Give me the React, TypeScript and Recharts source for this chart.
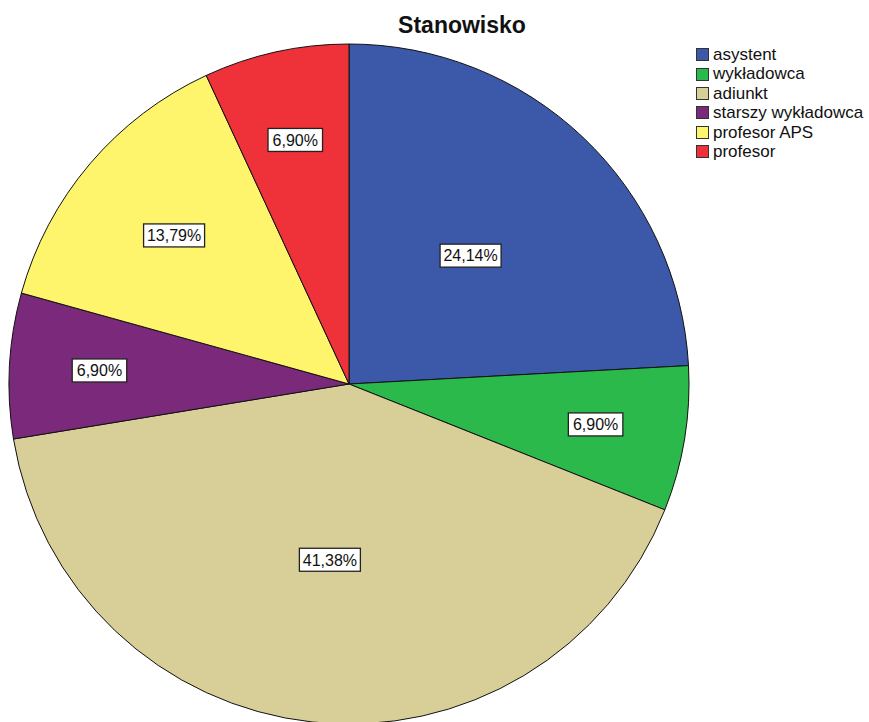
import React from "react"
import { Cell, Legend, Pie, PieChart } from "recharts"

const categories = ["asystent", "wykładowca", "adiunkt", "starszy wykładowca", "profesor APS", "profesor"]
const counts = [7, 2, 12, 2, 4, 2]
const colors = ["#3b59a8", "#2bb94c", "#d8cf98", "#7b2a7b", "#fff56d", "#ef3239"]

const data = categories.map((name, i) => ({ name, value: counts[i] }))

const RAD = Math.PI / 180
const FONT = "'Liberation Sans', Arial, sans-serif"

// small slices get their labels pushed out towards the rim, like the original
const renderLabel = (props: any) => {
  const { cx, cy, midAngle, outerRadius, percent } = props
  const share = percent * 100
  const k = share < 10 ? 0.735 : share < 20 ? 0.675 : 0.52
  const r = outerRadius * k
  const x = cx + r * Math.cos(-midAngle * RAD)
  const y = cy + r * Math.sin(-midAngle * RAD)
  const txt = share.toFixed(2).replace(".", ",") + "%"
  const w = 22 + txt.length * 6.5
  const h = 23
  return (
    <g>
      <rect x={x - w / 2} y={y - h / 2} width={w} height={h} fill="#fff" stroke="#222" strokeWidth={1.3} />
      <text x={x} y={y + 5.8} textAnchor="middle" fontFamily={FONT} fontSize={16} fill="#111">
        {txt}
      </text>
    </g>
  )
}

const LegendBox = () => (
  <div style={{ fontFamily: FONT, fontSize: 17, color: "#111", lineHeight: "19.4px" }}>
    {categories.map((c, i) => (
      <div key={c} style={{ display: "flex", alignItems: "center", height: 19.4 }}>
        <span
          style={{
            display: "inline-block",
            width: 13,
            height: 13,
            background: colors[i],
            border: "1.5px solid #333",
            marginRight: 4,
            boxSizing: "border-box",
          }}
        />
        <span>{c}</span>
      </div>
    ))}
  </div>
)

export default function App() {
  return (
    <div style={{ position: "absolute", left: 0, top: 0, background: "#fff" }}>
      <PieChart width={869} height={722} margin={{ top: 0, right: 0, bottom: 0, left: 0 }}>
        <text x={462} y={33} textAnchor="middle" fontFamily={FONT} fontWeight="bold" fontSize={23} fill="#111">
          Stanowisko
        </text>
        <Pie
          data={data}
          dataKey="value"
          nameKey="name"
          cx={349}
          cy={384}
          outerRadius={340}
          startAngle={90}
          endAngle={-270}
          stroke="#111"
          strokeWidth={1}
          label={renderLabel}
          labelLine={false}
          isAnimationActive={false}
        >
          {data.map((d, i) => (
            <Cell key={d.name} fill={colors[i]} />
          ))}
        </Pie>
        <Legend
          layout="vertical"
          align="right"
          verticalAlign="top"
          content={() => <LegendBox />}
          wrapperStyle={{ left: 696, top: 45, right: "auto", width: 175 }}
        />
      </PieChart>
    </div>
  )
}
